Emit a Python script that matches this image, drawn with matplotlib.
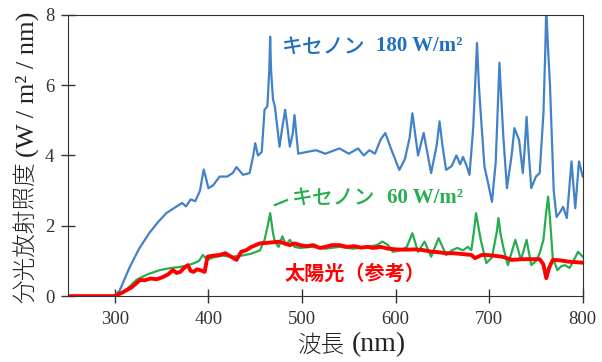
import numpy as np
import matplotlib.pyplot as plt

# --- データ ---
wl_xe180 = [250, 299, 305, 316, 326, 337, 346, 355, 366, 372, 376, 381, 386, 391, 393, 395, 397, 400, 405,
            412, 420, 426, 430, 437, 444, 448, 450, 453, 457, 460, 463, 465, 466, 467, 469, 471, 476, 479,
            482, 485, 487, 490, 492, 496, 505, 515, 525, 540, 550, 560, 566, 572, 578, 584, 589, 595, 604,
            610, 615, 618, 621, 624, 630, 638, 644, 647, 650, 654, 660, 665, 669, 672, 676, 679, 683, 685,
            687, 689, 691, 695, 699, 703, 707, 709, 711, 713, 715, 719, 724, 727, 732, 736, 738, 740, 742,
            745, 750, 754, 758, 760, 761, 763, 765, 769, 772, 776, 779, 783, 788, 792, 796, 800]
sp_xe180 = [0.0, 0.0, 0.15, 0.83, 1.35, 1.8, 2.1, 2.36, 2.55, 2.65, 2.55, 2.75, 2.7, 3.0, 3.3, 3.6, 3.4, 3.07, 3.15,
            3.4, 3.4, 3.5, 3.67, 3.45, 3.5, 4.0, 4.35, 4.0, 4.1, 5.3, 5.4, 6.4, 7.38, 6.4, 5.6, 5.4, 4.25, 4.8,
            5.3, 4.7, 4.25, 4.6, 5.15, 4.05, 4.1, 4.15, 4.05, 4.2, 4.05, 4.2, 4.0, 4.15, 4.05, 4.45, 4.64, 4.2,
            3.59, 3.9, 4.5, 5.2, 4.6, 4.0, 4.64, 3.5, 4.3, 4.97, 4.3, 3.59, 3.7, 4.0, 3.75, 3.96, 3.7, 3.45, 4.8,
            6.0, 7.2, 6.0, 5.2, 3.68, 3.2, 2.68, 3.8, 5.2, 6.64, 5.6, 4.6, 3.07, 4.0, 4.78, 4.44, 3.5, 4.2, 5.1,
            4.2, 3.07, 3.4, 3.5, 5.2, 7.0, 8.2, 7.0, 6.0, 3.0, 2.25, 2.4, 2.54, 2.22, 3.83, 2.5, 3.83, 3.4]

wl_xe60 = [250, 299, 305, 313, 323, 335, 348, 360, 370, 378, 384, 390, 394, 399, 405, 415, 425, 435,
           445, 455, 460, 463, 466, 469, 471, 475, 479, 483, 487, 492, 498, 510, 525, 540, 555, 570,
           580, 586, 592, 597, 605, 612, 618, 624, 631, 638, 646, 654, 660, 666, 672, 677, 681, 684, 686,
           689, 691, 697, 703, 708, 710, 712, 715, 720, 728, 734, 740, 745, 750, 754, 758, 761, 763, 765,
           768, 773, 777, 781, 786, 790, 795, 800]
sp_xe60 = [0.0, 0.0, 0.05, 0.2, 0.46, 0.62, 0.74, 0.8, 0.83, 0.88, 0.93, 1.0, 1.17, 1.03, 1.1, 1.15, 1.12, 1.15,
           1.2, 1.3, 1.6, 1.95, 2.36, 1.8, 1.55, 1.4, 1.7, 1.45, 1.6, 1.4, 1.37, 1.4, 1.35, 1.4, 1.35, 1.4,
           1.45, 1.55, 1.45, 1.26, 1.3, 1.4, 1.79, 1.26, 1.55, 1.12, 1.65, 1.17, 1.3, 1.37, 1.3, 1.4, 1.31, 1.9,
           2.36, 1.9, 1.6, 0.94, 1.1, 1.8, 2.22, 1.8, 1.4, 0.88, 1.6, 1.03, 1.6, 0.88, 1.0, 1.22, 1.6, 2.4,
           2.83, 2.2, 1.08, 0.74, 0.85, 0.88, 0.8, 1.0, 1.26, 1.12]

wl_sun = [250, 300, 308, 318, 327, 332, 338, 345, 352, 357, 362, 366, 370, 374, 378, 381, 384, 388,
          391, 396, 399, 405, 412, 418, 423, 430, 435, 440, 446, 455, 465, 476, 481, 487, 492, 498,
          505, 512, 519, 525, 532, 540, 548, 556, 563, 570, 576, 584, 592, 600, 610, 620, 629, 637,
          645, 654, 662, 670, 681, 685, 688, 692, 697, 705, 714, 719, 724, 735, 745, 754, 758, 761,
          764, 768, 775, 785, 800]
sp_sun = [0.0, 0.0, 0.1, 0.25, 0.46, 0.45, 0.5, 0.48, 0.55, 0.62, 0.74, 0.66, 0.69, 0.8, 0.88, 0.72, 0.69, 0.76,
          0.74, 0.69, 1.12, 1.15, 1.17, 1.22, 1.14, 1.03, 1.26, 1.3, 1.4, 1.5, 1.52, 1.55, 1.5, 1.45, 1.5, 1.45,
          1.42, 1.45, 1.37, 1.4, 1.45, 1.45, 1.4, 1.42, 1.38, 1.4, 1.37, 1.4, 1.35, 1.33, 1.32, 1.33, 1.31, 1.27,
          1.25, 1.22, 1.22, 1.2, 1.17, 1.08, 1.12, 1.17, 1.17, 1.15, 1.12, 1.08, 1.03, 1.05, 1.05, 1.05, 0.9, 0.51,
          0.8, 1.03, 1.02, 0.98, 0.95]

x_ticks = [300, 400, 500, 600, 700, 800]
y_ticks = [0, 2, 4, 6, 8]

c_blue = '#4282c8'
c_blue_txt = '#1f70c0'
c_green = '#25ad4f'
c_red = '#ff0000'
jp = 'Noto Sans CJK JP'
serif = 'Liberation Serif'

fig = plt.figure(figsize=(6.02, 3.62), dpi=100)
ax = fig.add_axes([0.113, 0.182, 0.855, 0.777])

ax.plot(wl_xe180, sp_xe180, color=c_blue, lw=1.6, solid_joinstyle='round')
ax.plot(wl_xe60, sp_xe60, color=c_green, lw=1.6, solid_joinstyle='round')
ax.plot(wl_sun, sp_sun, color=c_red, lw=2.8, solid_joinstyle='round')

ax.set_xlim(250, 800)
ax.set_ylim(0, 8)
ax.set_xticks(x_ticks)
ax.set_yticks(y_ticks)
ax.tick_params(direction='inout', length=10, width=1, colors='#333333', labelsize=13.5)
ax.tick_params(axis='x', pad=6)
ax.tick_params(axis='y', pad=5)
for lab in ax.get_xticklabels() + ax.get_yticklabels():
    lab.set_family(serif)
    lab.set_color('#333333')
for s in ax.spines.values():
    s.set_color('#333333')

# 注記
ax.text(478.5, 7.1, 'キセノン', family=jp, fontsize=15, color=c_blue_txt, weight='medium', va='center')
ax.text(579, 7.1, '180 W/m²', family=serif, fontsize=15, color=c_blue_txt, weight='bold', va='center')
ax.plot([471, 484], [2.59, 2.73], color=c_green, lw=1.6)
ax.text(489, 2.79, 'キセノン', family=jp, fontsize=15, color=c_green, weight='medium', va='center')
ax.text(590.5, 2.79, '60 W/m²', family=serif, fontsize=15, color=c_green, weight='bold', va='center')
ax.text(481, 0.65, '太陽光（参考）', family=jp, fontsize=14.5, color=c_red, weight='bold', va='center')

# 軸ラベル
fig.text(0.043, 0.164, '分光放射照度', family=jp, fontsize=17, weight='light', rotation=90,
         ha='center', va='bottom', color='#222222')
fig.text(0.046, 0.566, '(W / m² / nm)', family=serif, fontsize=19, rotation=90,
         ha='center', va='bottom', color='#222222')
fig.text(0.495, 0.047, '波長', family=jp, fontsize=17, weight='light', ha='left', va='center',
         color='#222222')
fig.text(0.585, 0.047, '(nm)', family=serif, fontsize=20, ha='left', va='center', color='#222222')

fig.savefig('out.png', dpi=100)
